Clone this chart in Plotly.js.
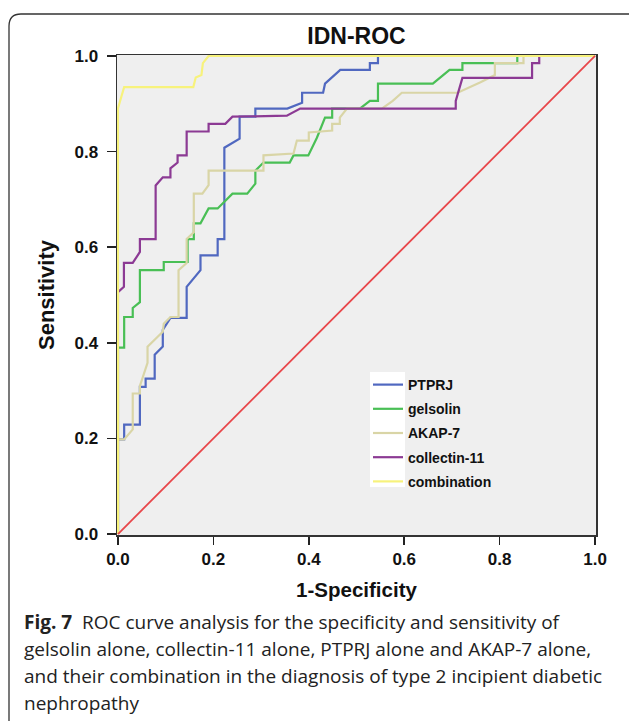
<!DOCTYPE html>
<html>
<head>
<meta charset="utf-8">
<script src="https://cdn.plot.ly/plotly-3.0.1.min.js"></script>
<style>
html,body{margin:0;padding:0;background:#fff;}
#chart{width:629px;height:721px;}
</style>
</head>
<body>
<div id="chart"></div>
<script>
// ---- Data ----
const seriesNames = ["PTPRJ", "gelsolin", "AKAP-7", "collectin-11", "combination"];

const ptprjX = [0, 0, 0.013, 0.013, 0.046, 0.046, 0.058, 0.058, 0.077, 0.077, 0.094, 0.094, 0.11, 0.144, 0.144, 0.173, 0.173, 0.209, 0.209, 0.223, 0.223, 0.255, 0.255, 0.288, 0.288, 0.355, 0.386, 0.386, 0.43, 0.434, 0.466, 0.528, 0.528, 0.545, 0.545, 1];
const ptprjY = [0, 0.198, 0.198, 0.229, 0.229, 0.308, 0.308, 0.325, 0.325, 0.375, 0.392, 0.427, 0.452, 0.452, 0.517, 0.552, 0.583, 0.583, 0.617, 0.617, 0.808, 0.827, 0.873, 0.873, 0.89, 0.89, 0.902, 0.923, 0.923, 0.942, 0.971, 0.971, 0.985, 0.985, 1, 1];

const gelsolinX = [0, 0, 0.013, 0.013, 0.031, 0.031, 0.046, 0.046, 0.096, 0.096, 0.146, 0.146, 0.159, 0.159, 0.173, 0.19, 0.209, 0.24, 0.271, 0.288, 0.288, 0.305, 0.36, 0.368, 0.399, 0.417, 0.434, 0.449, 0.449, 0.507, 0.528, 0.545, 0.545, 0.66, 0.695, 0.722, 0.722, 0.837, 0.837, 1];
const gelsolinY = [0, 0.39, 0.39, 0.454, 0.454, 0.473, 0.485, 0.552, 0.552, 0.569, 0.569, 0.617, 0.617, 0.65, 0.65, 0.681, 0.681, 0.712, 0.712, 0.733, 0.76, 0.777, 0.777, 0.792, 0.792, 0.829, 0.871, 0.871, 0.89, 0.89, 0.906, 0.906, 0.942, 0.942, 0.971, 0.971, 0.985, 0.985, 1, 1];

const akapX = [0, 0, 0.013, 0.031, 0.031, 0.046, 0.046, 0.062, 0.062, 0.094, 0.096, 0.11, 0.127, 0.127, 0.144, 0.144, 0.159, 0.159, 0.177, 0.19, 0.19, 0.305, 0.305, 0.368, 0.375, 0.40, 0.40, 0.449, 0.449, 0.465, 0.465, 0.48, 0.553, 0.576, 0.595, 0.712, 0.76, 0.79, 0.79, 0.85, 0.85, 1];
const akapY = [0, 0.198, 0.198, 0.219, 0.294, 0.294, 0.31, 0.358, 0.392, 0.423, 0.44, 0.454, 0.454, 0.552, 0.567, 0.617, 0.631, 0.712, 0.712, 0.73, 0.76, 0.76, 0.792, 0.796, 0.823, 0.823, 0.84, 0.844, 0.858, 0.858, 0.871, 0.89, 0.89, 0.906, 0.923, 0.923, 0.945, 0.96, 0.985, 0.985, 1, 1];

const collectinX = [0, 0, 0.0125, 0.0125, 0.031, 0.046, 0.046, 0.079, 0.079, 0.094, 0.11, 0.11, 0.125, 0.125, 0.144, 0.144, 0.19, 0.19, 0.225, 0.24, 0.354, 0.382, 0.708, 0.708, 0.722, 0.868, 0.868, 0.883, 0.883, 1];
const collectinY = [0, 0.506, 0.517, 0.567, 0.567, 0.59, 0.617, 0.617, 0.729, 0.746, 0.746, 0.765, 0.777, 0.792, 0.792, 0.842, 0.842, 0.858, 0.858, 0.873, 0.875, 0.89, 0.89, 0.906, 0.954, 0.954, 0.985, 0.985, 1, 1];

const combinationX = [0, 0, 0.013, 0.158, 0.163, 0.175, 0.178, 0.19, 1];
const combinationY = [0, 0.89, 0.935, 0.935, 0.955, 0.96, 0.985, 1, 1];

const refX = [0, 1];
const refY = [0, 1];

const tickVals = [0, 0.2, 0.4, 0.6, 0.8, 1.0];
const tickText = ["0.0", "0.2", "0.4", "0.6", "0.8", "1.0"];

const captionLines = [
  "<b>Fig. 7</b>  ROC curve analysis for the specificity and sensitivity of",
  "gelsolin alone, collectin-11 alone, PTPRJ alone and AKAP-7 alone,",
  "and their combination in the diagnosis of type 2 incipient diabetic",
  "nephropathy"
];

// ---- Styles ----
const colors = ["#5068c0", "#49bf55", "#d9d5a6", "#8c3a94", "#f7f27c"];
const xs = [ptprjX, gelsolinX, akapX, collectinX, combinationX];
const ys = [ptprjY, gelsolinY, akapY, collectinY, combinationY];

const traces = seriesNames.map((n, i) => ({
  x: xs[i], y: ys[i], name: n, type: "scatter", mode: "lines",
  line: {color: colors[i], width: 2.2},
  legendgroup: "g" + i, hoverinfo: "skip"
}));
traces.push({
  x: refX, y: refY, type: "scatter", mode: "lines", showlegend: false,
  line: {color: "#e8464a", width: 1.8}, hoverinfo: "skip"
});

// plot area: x 117..596, y 55..535 (px)
const PX = p => (p - 117) / 479;
const PY = p => (535 - p) / 480;

const capY = [622, 649, 676, 703];
const annotations = captionLines.map((t, i) => ({
  text: t, xref: "paper", yref: "paper", x: PX(22), y: PY(capY[i]),
  xanchor: "left", yanchor: "middle", showarrow: false, align: "left",
  font: {family: "Open Sans, sans-serif", size: 19, color: "#222"}
}));

// rounded border
const x0 = PX(9), y0 = PY(14), x1 = PX(660), y1 = PY(760);
const rx = 12 / 479, ry = 12 / 480;
const borderPath = `M ${x0},${y1} L ${x0},${y0 - ry} Q ${x0},${y0} ${x0 + rx},${y0} L ${x1},${y0}`;

const axisFont = {family: "Liberation Sans, Arial, sans-serif", size: 17, color: "#111", weight: "bold"};

const layout = {
  width: 629, height: 721,
  margin: {l: 117, r: 33, t: 55, b: 186},
  paper_bgcolor: "#ffffff",
  plot_bgcolor: "#efefef",
  showlegend: true,
  title: {
    text: "<b>IDN-ROC</b>", x: 0.5, xref: "paper", y: 1 - 36 / 721, yanchor: "middle",
    font: {family: "Liberation Sans, Arial, sans-serif", size: 23, color: "#111"}
  },
  xaxis: {
    range: [-0.002, 1.002], tickvals: tickVals, ticktext: tickText,
    ticks: "outside", ticklen: 8, tickwidth: 1.5, tickcolor: "#222",
    showline: true, linecolor: "#333", linewidth: 1.5, mirror: true,
    showgrid: false, zeroline: false,
    tickfont: axisFont,
    title: {text: "<b>1-Specificity</b>", standoff: 14,
      font: {family: "Liberation Sans, Arial, sans-serif", size: 20.5, color: "#111"}}
  },
  yaxis: {
    range: [-0.002, 1.002], tickvals: tickVals, ticktext: tickText,
    ticks: "outside", ticklen: 9, tickwidth: 1.5, tickcolor: "#222",
    ticklabelstandoff: 5,
    showline: true, linecolor: "#333", linewidth: 1.5, mirror: true,
    showgrid: false, zeroline: false,
    tickfont: axisFont,
    title: {text: "<b>Sensitivity</b>", standoff: 14,
      font: {family: "Liberation Sans, Arial, sans-serif", size: 22, color: "#111"}}
  },
  legend: {
    x: PX(368), y: PY(369), xanchor: "left", yanchor: "top",
    bgcolor: "rgba(0,0,0,0)", borderwidth: 0,
    font: {family: "Liberation Sans, Arial, sans-serif", size: 14, color: "#111", weight: "bold"},
    tracegroupgap: 3, itemwidth: 30
  },
  shapes: [
    {type: "rect", xref: "paper", yref: "paper", x0: PX(370), x1: PX(405), y0: PY(372), y1: PY(487),
     fillcolor: "#ffffff", line: {width: 0}, layer: "below"},
    {type: "path", xref: "paper", yref: "paper", path: borderPath,
     line: {color: "#333", width: 1.3}, layer: "above"}
  ],
  annotations: annotations
};

Plotly.newPlot("chart", traces, layout, {displayModeBar: false, staticPlot: true});
</script>
</body>
</html>
